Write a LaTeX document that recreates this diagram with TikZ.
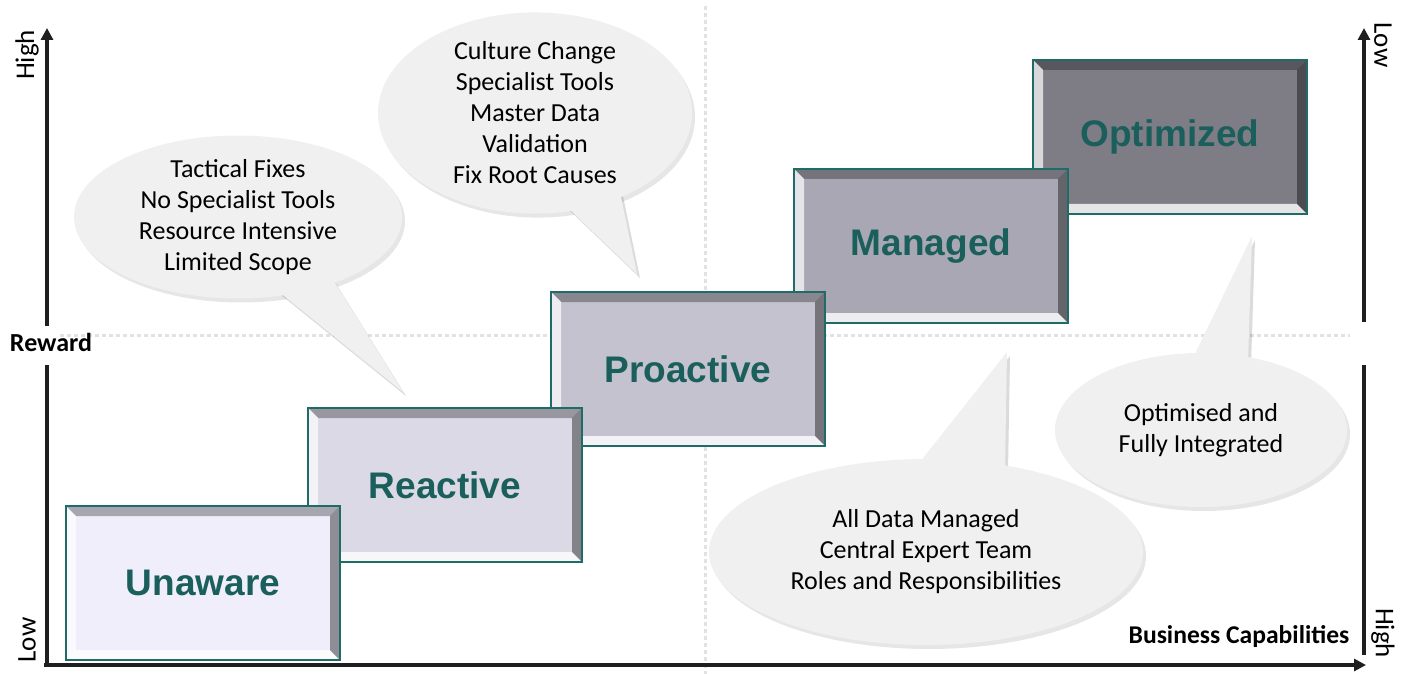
\documentclass[tikz,border=0pt]{standalone}
\usepackage{fontspec}
\setmainfont{Carlito}
\newfontfamily\stagefont{Liberation Sans}
\usetikzlibrary{arrows.meta,shapes.geometric,shadows}

\definecolor{stageteal}{HTML}{1E6B68}
\definecolor{stagetext}{HTML}{1A5F5B}
\definecolor{bubblegray}{HTML}{F0F0F0}
\definecolor{guidegray}{HTML}{E2E2E2}
\definecolor{unawarefill}{HTML}{EFEEFA}
\definecolor{reactivefill}{HTML}{DAD9E5}
\definecolor{proactivefill}{HTML}{C3C2CE}
\definecolor{managedfill}{HTML}{A8A7B3}
\definecolor{optimizedfill}{HTML}{7E7D86}

\begin{document}
\begin{tikzpicture}[x=0.5pt,y=-0.5pt,
    axis/.style={line width=2pt, black!88},
    guide/.style={guidegray, line width=1.5pt, dash pattern=on 2pt off 1.5pt},
    stage/.style={draw=stageteal, line width=1pt, minimum width=137pt, minimum height=77pt,
        inner sep=0pt, text=stagetext, font=\stagefont\bfseries\fontsize{18.5}{20}\selectfont,
        path picture={
            \fill[black, opacity=.3] (path picture bounding box.north west) -- (path picture bounding box.north east)
                -- ([shift={(-5pt,-5pt)}]path picture bounding box.north east) -- ([shift={(5pt,-5pt)}]path picture bounding box.north west) -- cycle;
            \fill[white, opacity=.7] (path picture bounding box.north west) -- (path picture bounding box.south west)
                -- ([shift={(5pt,5pt)}]path picture bounding box.south west) -- ([shift={(5pt,-5pt)}]path picture bounding box.north west) -- cycle;
            \fill[white, opacity=.8] (path picture bounding box.south west) -- (path picture bounding box.south east)
                -- ([shift={(-5pt,5pt)}]path picture bounding box.south east) -- ([shift={(5pt,5pt)}]path picture bounding box.south west) -- cycle;
            \fill[black, opacity=.4] (path picture bounding box.north east) -- (path picture bounding box.south east)
                -- ([shift={(-5pt,5pt)}]path picture bounding box.south east) -- ([shift={(-5pt,-5pt)}]path picture bounding box.north east) -- cycle;
        }},
    bubble/.style={ellipse, fill=bubblegray, inner sep=0pt, align=center,
        font=\fontsize{13}{15.5}\selectfont,
        drop shadow={opacity=.2, shadow xshift=1.5pt, shadow yshift=-2pt}},
    tailshadow/.style={black, opacity=.14},
    axislabel/.style={font=\fontsize{13.5}{15}\selectfont}]

    \useasboundingbox (0,0) rectangle (1404,674);

    % dotted quadrant guides
    \draw[guide] (705,6) -- (705,674);
    \draw[guide] (60,335) -- (1350,335);

    % axes
    \draw[axis, -{Triangle[length=6pt,width=6pt]}] (47,326) -- (47,28);
    \draw[axis] (47,365) -- (47,664);
    \draw[axis, -{Triangle[length=6pt,width=6pt]}] (44,665) -- (1366,665);
    \draw[axis, -{Triangle[length=6pt,width=6pt]}] (1364,322) -- (1364,28);
    \draw[axis] (1364,365) -- (1364,655);

    \node[axislabel, rotate=90] (lefthigh) at (27,55) {High};
    \node[axislabel, rotate=90] (leftlow) at (27,640) {Low};
    \node[axislabel, rotate=-90] (rightlow) at (1383,45) {Low};
    \node[axislabel, rotate=-90] (righthigh) at (1383,633) {High};
    \node[font=\bfseries\fontsize{13}{15}\selectfont] (reward) at (51,342) {Reward};
    \node[font=\bfseries\fontsize{12.8}{15}\selectfont] (capabilities) at (1239,637) {Business Capabilities};

    % stages, top one first so each lower one lies over it
    \node[stage, fill=optimizedfill] (optimized) at (1170,137) {\raisebox{-1pt}{Optimized}};
    \node[stage, fill=managedfill] (managed) at (931,246) {\raisebox{-1pt}{Managed}};
    \node[stage, fill=proactivefill] (proactive) at (688,369) {Proactive};
    \node[stage, fill=reactivefill] (reactive) at (445,485) {Reactive};
    \node[stage, fill=unawarefill] (unaware) at (203,583) {Unaware};

    % speech bubbles
    \coordinate (b1c) at (238,217);
    \coordinate (b2c) at (535,113);
    \coordinate (b3c) at (926,552);
    \coordinate (b4c) at (1201,430);
    \coordinate (tip1) at (403,392);
    \coordinate (tip2) at (637,274);
    \coordinate (tip3) at (1007,352);
    \coordinate (tip4) at (1252,236);

    \fill[tailshadow] ([shift={(38,74)}]b1c) -- ([shift={(3,4)}]tip1) -- ([shift={(95,62)}]b1c) -- cycle;
    \fill[tailshadow] ([shift={(33,96)}]b2c) -- ([shift={(3,4)}]tip2) -- ([shift={(88,83)}]b2c) -- cycle;
    \fill[tailshadow] ([shift={(-3,-86)}]b3c) -- ([shift={(3,4)}]tip3) -- ([shift={(82,-80)}]b3c) -- cycle;
    \fill[tailshadow] ([shift={(-5,-68)}]b4c) -- ([shift={(3,4)}]tip4) -- ([shift={(50,-64)}]b4c) -- cycle;

    \node[bubble, minimum width=164pt, minimum height=77pt] (tactical) at (b1c)
        {Tactical Fixes\\No Specialist Tools\\Resource Intensive\\Limited Scope};
    \node[bubble, minimum width=157pt, minimum height=98pt] (culture) at (b2c)
        {Culture Change\\Specialist Tools\\Master Data\\Validation\\Fix Root Causes};
    \node[bubble, minimum width=217pt, minimum height=93pt] (alldata) at (b3c)
        {All Data Managed\\Central Expert Team\\Roles and Responsibilities};
    \node[bubble, minimum width=146pt, minimum height=77pt] (integrated) at (b4c)
        {Optimised and\\Fully Integrated};

    \fill[bubblegray] ([shift={(35,70)}]b1c) -- (tip1) -- ([shift={(92,58)}]b1c) -- cycle;
    \fill[bubblegray] ([shift={(30,92)}]b2c) -- (tip2) -- ([shift={(85,79)}]b2c) -- cycle;
    \fill[bubblegray] ([shift={(-6,-90)}]b3c) -- (tip3) -- ([shift={(79,-84)}]b3c) -- cycle;
    \fill[bubblegray] ([shift={(-8,-72)}]b4c) -- (tip4) -- ([shift={(47,-68)}]b4c) -- cycle;
\end{tikzpicture}
\end{document}
